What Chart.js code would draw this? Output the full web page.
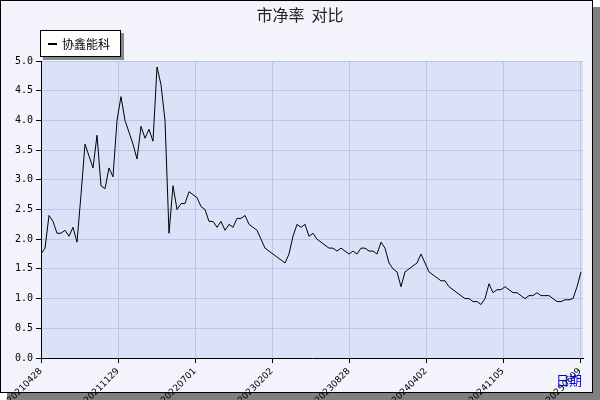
<!DOCTYPE html>
<html><head><meta charset="utf-8">
<script src="https://cdn.jsdelivr.net/npm/chart.js@4"></script>
<style>body{margin:0;background:#fff}#w{width:600px;height:400px}</style>
</head><body><div id="w"><canvas id="c" width="600" height="400"></canvas></div>
<script>
const title = "市净率  对比";
const seriesName = "协鑫能科";
const tickLabels = ["20210428","20211129","20220701","20230202","20230828","20240402","20241105","20250609"];
const values = [1.75,1.85,2.4,2.3,2.1,2.1,2.15,2.05,2.2,1.95,2.75,3.6,3.4,3.2,3.75,2.9,2.85,3.2,3.05,4.0,4.4,4.0,3.8,3.6,3.35,3.9,3.7,3.85,3.65,4.9,4.6,4.0,2.1,2.9,2.5,2.6,2.6,2.8,2.75,2.7,2.55,2.5,2.3,2.3,2.2,2.3,2.15,2.25,2.2,2.35,2.35,2.4,2.25,2.2,2.15,2.0,1.85,1.8,1.75,1.7,1.65,1.6,1.75,2.05,2.25,2.2,2.25,2.05,2.1,2.0,1.95,1.9,1.85,1.85,1.8,1.85,1.8,1.75,1.8,1.75,1.85,1.85,1.8,1.8,1.75,1.95,1.85,1.6,1.5,1.45,1.2,1.45,1.5,1.55,1.6,1.75,1.6,1.45,1.4,1.35,1.3,1.3,1.2,1.15,1.1,1.05,1.0,1.0,0.95,0.95,0.9,1.0,1.25,1.1,1.15,1.15,1.2,1.15,1.1,1.1,1.05,1.0,1.05,1.05,1.1,1.05,1.05,1.05,1.0,0.95,0.95,0.98,0.98,1.0,1.2,1.45];
const tickStep = 19.25;
const pts = values.map((v,i)=>({x:i,y:v}));
const deco = {
  id:'deco',
  beforeDraw(ch){
    const c=ch.ctx;
    c.save();
    c.fillStyle='#808080';c.fillRect(7,7,593,393);
    c.fillStyle='#f2f3fb';c.fillRect(0,0,593,393);
    c.strokeStyle='#000';c.lineWidth=1;c.strokeRect(0.5,0.5,592,392);
    const a=ch.chartArea;
    c.fillStyle='#dbe2f7';c.fillRect(a.left,a.top,a.right-a.left,a.bottom-a.top);
    c.restore();
  },
  afterDraw(ch){
    const c=ch.ctx;
    c.save();
    c.fillStyle='#222';c.font='16px "Noto Sans CJK SC"';c.textAlign='center';c.textBaseline='middle';
    c.fillText(title,300,15);
    c.fillStyle='#888';c.fillRect(43,33,81,27);
    c.fillStyle='#fff';c.fillRect(40,30,81,27);
    c.strokeStyle='#000';c.strokeRect(40.5,30.5,80,26);
    c.fillStyle='#000';c.fillRect(48,43,9,2);
    c.font='12px "Noto Sans CJK SC"';c.textAlign='left';
    c.fillText(seriesName,62,44);
    c.fillStyle='#0000ee';c.font='13px "Noto Sans CJK SC"';
    c.fillText('日期',556,380);
    c.restore();
  }
};
new Chart(document.getElementById('c'),{
  type:'line',
  data:{datasets:[{data:pts,borderColor:'#000',borderWidth:1,pointRadius:0,tension:0,fill:false}]},
  options:{
    responsive:false,animation:false,
    layout:{padding:{top:61,left:0,right:17,bottom:0}},
    plugins:{legend:{display:false},tooltip:{enabled:false}},
    scales:{
      x:{type:'linear',min:0,max:135.5,
        afterBuildTicks(s){s.ticks=tickLabels.map((t,i)=>({value:i*tickStep}));},
        afterFit(s){s.height=42;},
        ticks:{autoSkip:false,minRotation:45,maxRotation:45,color:'#000',font:{family:'DejaVu Sans',size:9},
          callback:(v,i)=>tickLabels[i]},
        grid:{color:'#b9c5ea',tickColor:'#000',tickLength:5},
        border:{color:'#000'}},
      y:{min:0,max:5,afterFit(s){s.width=41;},
        ticks:{stepSize:0.5,color:'#000',font:{family:'DejaVu Sans Mono',size:10},callback:v=>v.toFixed(1)},
        grid:{color:'#b9c5ea',tickColor:'#000',tickLength:5},
        border:{color:'#000'}}
    }
  },
  plugins:[deco]
});
</script></body></html>
